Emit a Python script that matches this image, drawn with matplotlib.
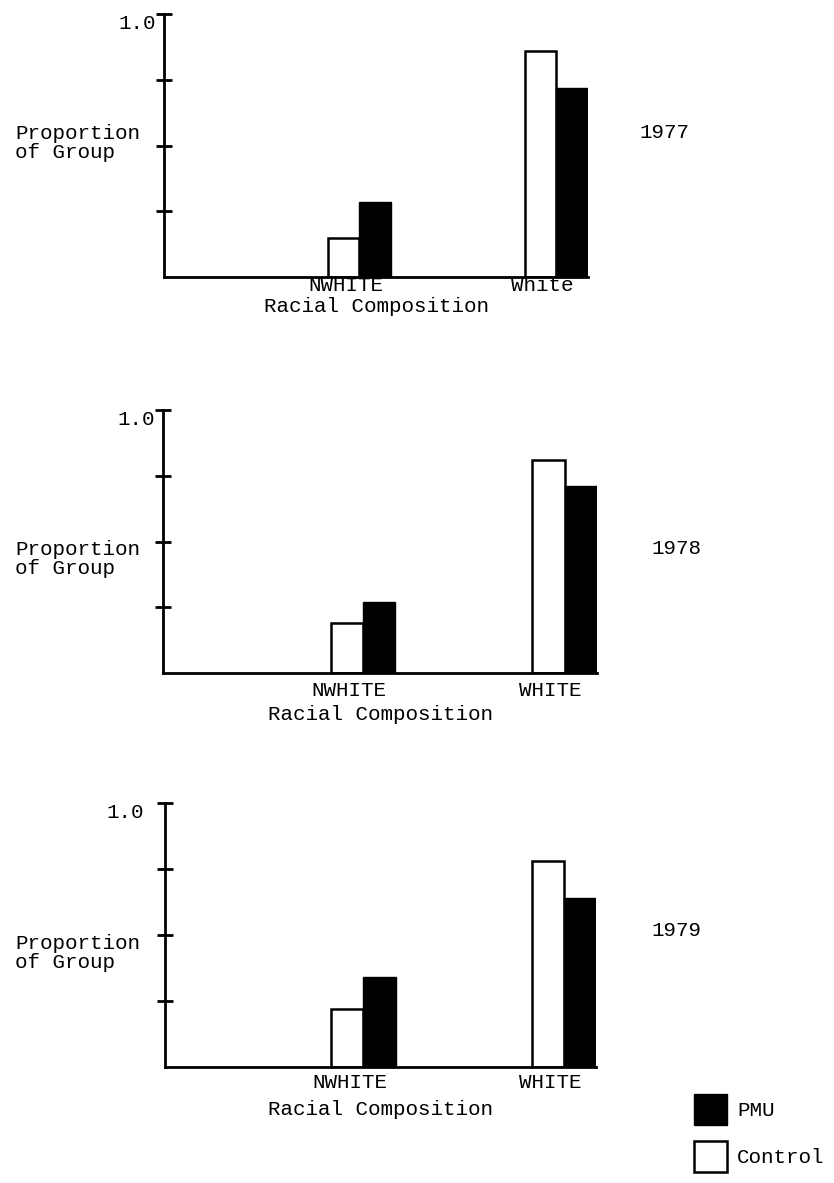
import matplotlib
matplotlib.use("Agg")
import matplotlib.pyplot as plt
import numpy as np

plt.rcParams['font.family'] = ['Liberation Mono', 'DejaVu Sans Mono']

# ---- data ----
years = ['1977', '1978', '1979']
categories_1977 = ['NWHITE', 'White']
categories = ['NWHITE', 'WHITE']
control_1977 = [0.15, 0.86]
pmu_1977 = [0.285, 0.72]
control_1978 = [0.19, 0.81]
pmu_1978 = [0.27, 0.71]
control_1979 = [0.22, 0.78]
pmu_1979 = [0.34, 0.64]
ytick_values = [0.25, 0.5, 0.75, 1.0]
ytick_labels = ['', '', '', '1.0']

W, H = 834, 1183
fig = plt.figure(figsize=(W / 100, H / 100), dpi=100)
fig.patch.set_facecolor('white')

FS = 15
bw = 0.16

# panel layout in pixels: left, right, top(1.0), bottom(0)
panels = [
    dict(box=(164, 588, 14, 277), year=years[0], cats=categories_1977,
         ctrl=control_1977, pmu=pmu_1977, ypad=0, xpad=-1, lpad=2,
         ylab_y=143, year_xy=(639, 132)),
    dict(box=(163, 597, 410, 673), year=years[1], cats=categories,
         ctrl=control_1978, pmu=pmu_1978, ypad=0, xpad=6, lpad=3,
         ylab_y=559, year_xy=(651, 548)),
    dict(box=(165, 596, 803, 1067), year=years[2], cats=categories,
         ctrl=control_1979, pmu=pmu_1979, ypad=10, xpad=4, lpad=6,
         ylab_y=953, year_xy=(651, 930)),
]

handles = None
for p in panels:
    l, r, t, b = p['box']
    ax = fig.add_axes([l / W, 1 - b / H, (r - l) / W, (b - t) / H])
    x = np.arange(len(p['cats']))
    bc = ax.bar(x - bw / 2, p['ctrl'], width=bw, color='white',
                edgecolor='black', linewidth=1.8, zorder=3, label='Control')
    bp = ax.bar(x + bw / 2, p['pmu'], width=bw, color='black',
                edgecolor='black', linewidth=1.0, zorder=3, label='PMU')
    if handles is None:
        handles = [bp, bc]
    ax.set_xlim(-0.99, 1 + bw)
    ax.set_ylim(0, 1.0)
    for s in ['top', 'right']:
        ax.spines[s].set_visible(False)
    for s in ['left', 'bottom']:
        ax.spines[s].set_linewidth(2.0)
        ax.spines[s].set_zorder(4)
    ax.set_yticks(ytick_values)
    ax.set_yticklabels(ytick_labels)
    ax.tick_params(axis='y', direction='inout', length=11, width=2.0,
                   labelsize=FS, pad=p['ypad'])
    for lab in ax.get_yticklabels():
        lab.set_verticalalignment('top')
    ax.set_xticks(x - 0.07)
    ax.set_xticklabels(p['cats'])
    ax.tick_params(axis='x', length=0, labelsize=FS, pad=p['xpad'])
    ax.set_xlabel('Racial Composition', fontsize=FS, labelpad=p['lpad'])
    fig.text(15 / W, 1 - p['ylab_y'] / H, 'Proportion\nof Group',
             fontsize=FS, ha='left', va='center', linespacing=1.0)
    yx, yy = p['year_xy']
    fig.text(yx / W, 1 - yy / H, p['year'], fontsize=FS, ha='left', va='center')

fig.legend(handles=handles, labels=['PMU', 'Control'], loc='upper left',
           bbox_to_anchor=(686 / W, 1 - 1086 / H), frameon=False,
           fontsize=FS, handlelength=1.55, handleheight=1.9,
           labelspacing=0.75, handletextpad=0.5, borderaxespad=0)

fig.savefig('out.png', dpi=100, facecolor='white')
